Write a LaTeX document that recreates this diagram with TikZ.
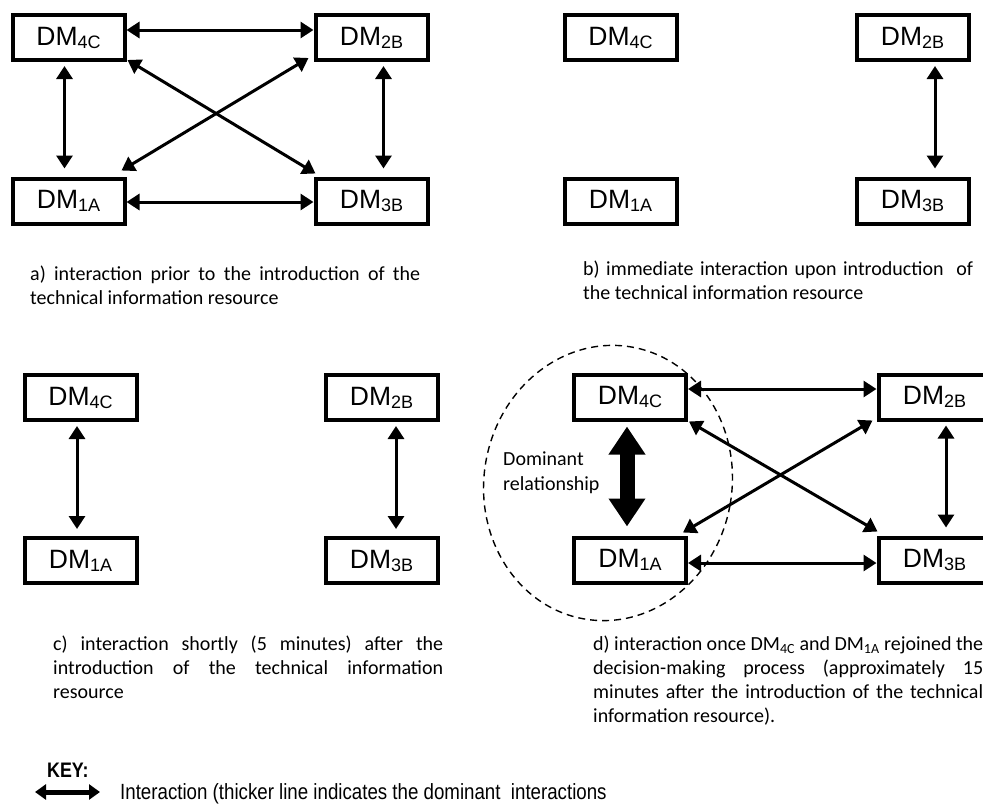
\documentclass[tikz,border=0pt]{standalone}
\usepackage{fontspec}
\setmainfont{Carlito}
\newfontfamily\boxfont{Liberation Sans}
\newfontfamily\keyfont[FakeStretch=0.85]{Liberation Sans}
\usetikzlibrary{arrows.meta}

% box label: DM with a lowered subscript
\newcommand{\dmlab}[1]{DM\raisebox{-3pt}{\fontsize{18pt}{18pt}\selectfont #1}}
% one fully justified caption line
\newcommand{\jline}[1]{\makebox[390pt][s]{#1}}

\tikzset{
  dmbox/.style={draw, line width=4pt, fill=white, minimum width=112pt, minimum height=45pt,
    inner sep=0pt, font=\boxfont\fontsize{26.5pt}{30pt}\selectfont},
  link/.style={line width=3pt, {Triangle[length=13pt,width=16pt]}-{Triangle[length=13pt,width=16pt]}},
  dominant/.style={line width=15pt, {Triangle[length=28pt,width=35pt]}-{Triangle[length=28pt,width=35pt]}},
  keyarrow/.style={line width=5pt, {Triangle[length=11pt,width=15pt]}-{Triangle[length=11pt,width=15pt]}},
  caption/.style={anchor=north west, inner sep=0pt, align=left,
    font=\fontsize{20pt}{24pt}\selectfont},
  halo/.style={line width=1.4pt, dash pattern=on 7pt off 5pt},
}

\begin{document}
\begin{tikzpicture}[x=1pt,y=-1pt]
\useasboundingbox (0,0) rectangle (983,806);

% ---------- a) before the resource ----------
\node[dmbox] (a4) at (68.5,37.5) {\dmlab{4C}};
\node[dmbox] (a2) at (371.5,37.5) {\dmlab{2B}};
\node[dmbox] (a1) at (68.5,201) {\dmlab{1A}};
\node[dmbox] (a3) at (371.5,201) {\dmlab{3B}};
\draw[link] ([yshift=7.5pt]a4.east) -- ([yshift=7.5pt]a2.west);
\draw[link] ([yshift=-1pt]a1.east) -- ([yshift=-1pt]a3.west);
\draw[link] ([xshift=-4pt,yshift=-4pt]a4.south) -- ([xshift=-4pt,yshift=8pt]a1.north);
\draw[link] ([xshift=12pt,yshift=-4pt]a2.south) -- ([xshift=12pt,yshift=8pt]a3.north);
\draw[link] ([xshift=1pt,yshift=2pt]a4.south east) -- ([xshift=2pt,yshift=3pt]a3.north west);
\draw[link] ([xshift=-5pt,yshift=4pt]a2.south west) -- ([xshift=-5pt,yshift=6pt]a1.north east);
\node[caption] (capa) at (30,266) {\jline{a) interaction prior to the introduction of the}\\
  technical information resource};

% ---------- b) immediately after ----------
\node[dmbox] (b4) at (620.5,37.5) {\dmlab{4C}};
\node[dmbox] (b2) at (912.5,37.5) {\dmlab{2B}};
\node[dmbox] (b1) at (620.5,201) {\dmlab{1A}};
\node[dmbox] (b3) at (912.5,201) {\dmlab{3B}};
\draw[link] ([xshift=22.5pt,yshift=-4pt]b2.south) -- ([xshift=22.5pt,yshift=8pt]b3.north);
\node[caption] (capb) at (583,261) {\jline{b) immediate interaction upon introduction\ \ of}\\
  the technical information resource};

% ---------- c) five minutes after ----------
\node[dmbox] (c4) at (80.5,397.5) {\dmlab{4C}};
\node[dmbox] (c2) at (381.5,397.5) {\dmlab{2B}};
\node[dmbox] (c1) at (80.5,560.5) {\dmlab{1A}};
\node[dmbox] (c3) at (381.5,560.5) {\dmlab{3B}};
\draw[link] ([xshift=-3.5pt,yshift=-4pt]c4.south) -- ([xshift=-3.5pt,yshift=7pt]c1.north);
\draw[link] ([xshift=14.5pt,yshift=-4pt]c2.south) -- ([xshift=14.5pt,yshift=7pt]c3.north);
\node[caption] (capc) at (53,636) {\jline{c) interaction shortly (5 minutes) after the}\\
  \jline{introduction of the technical information}\\
  resource};

% ---------- d) after DM4C and DM1A rejoin ----------
\draw[halo, rotate around={-10:(608,483)}] (608,483) ellipse [x radius=124pt, y radius=138pt];
\node[dmbox] (d4) at (630,397) {\dmlab{4C}};
\node[dmbox] (d2) at (934.5,397) {\dmlab{2B}};
\node[dmbox] (d1) at (630,560) {\dmlab{1A}};
\node[dmbox] (d3) at (934.5,560) {\dmlab{3B}};
\draw[link] ([yshift=8pt]d4.east) -- ([yshift=8pt]d2.west);
\draw[link] ([yshift=-3pt]d1.east) -- ([yshift=-3pt]d3.west);
\draw[dominant] ([xshift=-3pt,yshift=-5pt]d4.south) -- ([xshift=-3pt,yshift=9pt]d1.north);
\draw[link] ([xshift=11.5pt,yshift=-4pt]d2.south) -- ([xshift=11.5pt,yshift=8pt]d3.north);
\draw[link] ([xshift=1pt,yshift=0pt]d4.south east) -- ([xshift=1pt,yshift=4pt]d3.north west);
\draw[link] ([xshift=-4pt,yshift=1pt]d2.south west) -- ([xshift=-5pt,yshift=3pt]d1.north east);
\node[anchor=north west, inner sep=0pt, align=left, font=\fontsize{20pt}{25pt}\selectfont]
  (dom) at (503,452) {Dominant\\relationship};
\node[caption] (capd) at (593,636) {\jline{d) interaction once DM\textsubscript{4C} and DM\textsubscript{1A} rejoined the}\\
  \jline{decision-making process (approximately 15}\\
  \jline{minutes after the introduction of the technical}\\
  information resource).};

% ---------- key ----------
\node[anchor=base west, inner sep=0pt, font=\keyfont\bfseries\fontsize{21pt}{24pt}\selectfont]
  (keyhead) at (47,777) {KEY:};
\coordinate (k1) at (35,792);
\coordinate (k2) at (100,792);
\draw[keyarrow] (k1) -- (k2);
\node[anchor=base west, inner sep=0pt, font=\keyfont\fontsize{22pt}{26pt}\selectfont]
  (keytext) at (120,799) {Interaction (thicker line indicates the dominant\ \ interactions};
\end{tikzpicture}
\end{document}
